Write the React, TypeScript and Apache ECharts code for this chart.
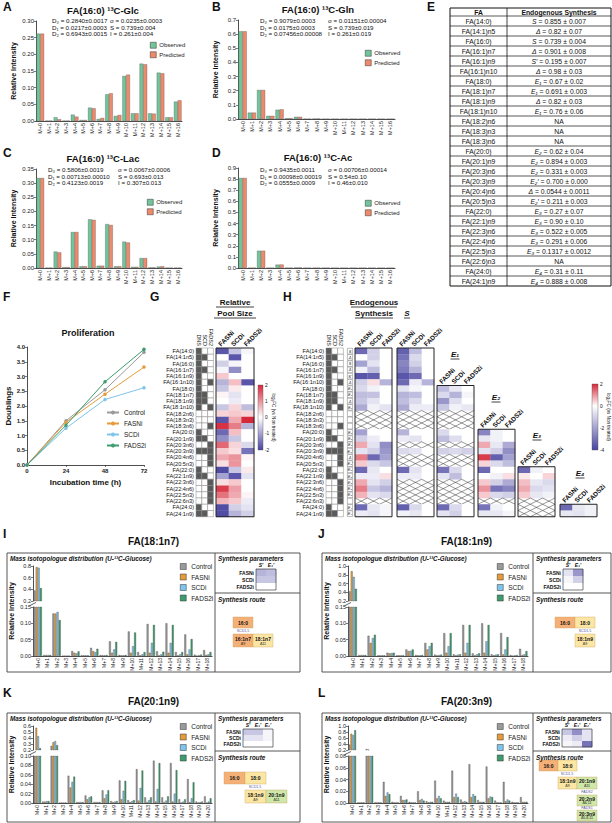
import React, { useEffect, useRef } from 'react';
import * as echarts from 'echarts';

const FONT = '"Liberation Sans", Arial, "DejaVu Sans", sans-serif';

// ---------------- A–D : observed vs predicted MIDs ----------------
const M17 = ['M+0','M+1','M+2','M+3','M+4','M+5','M+6','M+7','M+8','M+9','M+10','M+11','M+12','M+13','M+14','M+15','M+16'];
const M19 = ['M+0','M+1','M+2','M+3','M+4','M+5','M+6','M+7','M+8','M+9','M+10','M+11','M+12','M+13','M+14','M+15','M+16','M+17','M+18'];
const M21 = ['M+0','M+1','M+2','M+3','M+4','M+5','M+6','M+7','M+8','M+9','M+10','M+11','M+12','M+13','M+14','M+15','M+16','M+17','M+18','M+19','M+20'];

const A_OBS = [0.262,0.001,0.011,0.001,0.019,0.003,0.040,0.006,0.080,0.015,0.135,0.023,0.172,0.023,0.145,0.011,0.058];
const A_PRED = [0.262,0.001,0.005,0.001,0.013,0.003,0.038,0.009,0.083,0.018,0.139,0.023,0.170,0.022,0.143,0.011,0.062];
const B_OBS = [0.620,0.045,0.205,0.022,0.065,0.005,0.015,0.002,0.003,0.001,0.001,0.001,0.001,0.001,0.001,0.001,0.001];
const B_PRED = [0.620,0.045,0.205,0.022,0.068,0.005,0.015,0.002,0.003,0.001,0.001,0.001,0.001,0.001,0.001,0.001,0.001];
const C_OBS = [0.318,0.001,0.058,0.003,0.127,0.006,0.172,0.008,0.155,0.006,0.093,0.004,0.035,0.002,0.005,0.001,0.001];
const C_PRED = [0.318,0.001,0.055,0.003,0.127,0.006,0.170,0.008,0.152,0.006,0.090,0.004,0.035,0.002,0.006,0.001,0.001];
const D_OBS = [0.810,0.001,0.155,0.001,0.030,0.002,0.004,0.001,0.002,0.001,0.001,0.001,0.001,0.001,0.001,0.001,0.001];
const D_PRED = [0.810,0.001,0.155,0.001,0.031,0.002,0.004,0.001,0.002,0.001,0.001,0.001,0.001,0.001,0.001,0.001,0.001];

const A_PAR1 = ['D₀ = 0.2840±0.0017','D₁ = 0.0217±0.0003','D₂ = 0.6943±0.0015'];
const A_PAR2 = ['σ = 0.0235±0.0003','S = 0.739±0.004','I = 0.261±0.004'];
const B_PAR1 = ['D₀ = 0.9079±0.0003','D₁ = 0.0175±0.0003','D₂ = 0.07456±0.00008'];
const B_PAR2 = ['σ = 0.01151±0.00004','S = 0.739±0.019','I = 0.261±0.019'];
const C_PAR1 = ['D₀ = 0.5806±0.0019','D₁ = 0.00713±0.00010','D₂ = 0.4123±0.0019'];
const C_PAR2 = ['σ = 0.0067±0.0006','S = 0.693±0.013','I = 0.307±0.013'];
const D_PAR1 = ['D₀ = 0.9435±0.0011','D₁ = 0.00098±0.00019','D₂ = 0.0555±0.0009'];
const D_PAR2 = ['σ = 0.00706±0.00014','S = 0.54±0.10','I = 0.46±0.010'];

// ---------------- E : table ----------------
const TABLE_FA = ['FA(14:0)','FA(14:1)n5','FA(16:0)','FA(16:1)n7','FA(16:1)n9','FA(16:1)n10','FA(18:0)','FA(18:1)n7','FA(18:1)n9','FA(18:1)n10','FA(18:2)n6','FA(18:3)n3','FA(18:3)n6','FA(20:0)','FA(20:1)n9','FA(20:3)n6','FA(20:3)n9','FA(20:4)n6','FA(20:5)n3','FA(22:0)','FA(22:1)n9','FA(22:3)n6','FA(22:4)n6','FA(22:5)n3','FA(22:6)n3','FA(24:0)','FA(24:1)n9'];
const TABLE_PARAM = ['S','Δ','S','Δ','S′','Δ','E₁','E₁','Δ','E₁','','','','E₂','E₂','E₂','E₂′','Δ','E₂′','E₃','E₃','E₃','E₃','E₃','','E₄','E₄'];
const TABLE_VALUE = ['0.855 ± 0.007','0.82 ± 0.07','0.739 ± 0.004','0.901 ± 0.008','0.195 ± 0.007','0.98 ± 0.03','0.67 ± 0.02','0.691 ± 0.003','0.82 ± 0.03','0.76 ± 0.06','NA','NA','NA','0.62 ± 0.04','0.894 ± 0.003','0.331 ± 0.003','0.700 ± 0.000','0.0544 ± 0.0011','0.211 ± 0.003','0.27 ± 0.07','0.90 ± 0.10','0.522 ± 0.005','0.291 ± 0.006','0.1317 ± 0.0012','NA','0.31 ± 0.11','0.888 ± 0.008'];

// ---------------- F : proliferation ----------------
const F_TIME = [0, 24, 48, 72];
const F_CONTROL = [0, 1.50, 2.55, 3.82];
const F_FASNI = [0, 1.45, 2.40, 3.32];
const F_SCDI = [0, 1.25, 2.22, 2.62];
const F_FADS2I = [0, 1.35, 2.82, 3.92];

// ---------------- G / H : heatmaps ----------------
const FA_ROWS = ['FA(14:0)','FA(14:1n5)','FA(16:0)','FA(16:1n7)','FA(16:1n9)','FA(16:1n10)','FA(18:0)','FA(18:1n7)','FA(18:1n9)','FA(18:1n10)','FA(18:2n6)','FA(18:3n3)','FA(18:3n6)','FA(20:0)','FA(20:1n9)','FA(20:3n6)','FA(20:3n9)','FA(20:4n6)','FA(20:5n3)','FA(22:0)','FA(22:1n9)','FA(22:3n6)','FA(22:4n6)','FA(22:5n3)','FA(22:6n3)','FA(24:0)','FA(24:1n9)'];
const ROUTE_COLS = ['DNS','SCD','FADS2'];
const INHIB = ['FASNi','SCDi','FADS2i'];
const ROUTE_MATRIX = [[1,0,0],[1,1,0],[1,0,0],[1,1,0],[1,0,0],[1,0,1],[1,0,0],[1,1,0],[1,1,0],[1,0,1],[0,0,0],[0,0,0],[0,0,1],[1,0,0],[1,1,0],[0,0,1],[1,1,1],[0,0,1],[0,0,1],[1,0,0],[1,1,0],[0,0,1],[0,0,1],[0,0,1],[0,0,1],[1,0,0],[1,1,0]];
const G_FC = [[-1.8,-0.6,-0.1],[0,-1.8,0],[-0.5,-0.1,0],[-0.1,-1.2,0],[0.5,0,0],[-0.8,0.6,-1.8],[-0.6,0.2,0],[0.1,-0.3,0],[0,-0.2,0],[-0.6,0.4,-0.7],[0.4,0.5,0.4],[-1.8,0.8,2.0],[1.9,1.2,-0.8],[-1.6,0.6,0],[-1.2,-0.6,0],[1.4,0.4,-0.4],[0.5,0.3,-1.5],[0.8,1.0,0.1],[0.3,1.0,0],[-1.9,-0.6,0.2],[-1.0,-1.8,-0.3],[0.3,0.5,0],[1.8,0.9,0],[1.3,0.8,0.1],[0.7,0.5,-0.2],[-1.9,-0.5,-0.3],[-1.9,-0.8,-0.5]];
const H_ENDO = [[-3.2,-1.0,0],[0,-1.0,0],[-2.0,-0.6,0],[-0.3,-1.4,0],[-3.6,-3.4,0],[-1.0,0.3,-1.6],[-0.8,-0.3,0],[-1.4,-1.3,0],[-1.2,-0.6,0],[-1.8,-0.3,-0.6],null,null,null,[-2.0,0,0],[-1.0,-0.4,0],[0.8,-0.6,-2.4],[-0.6,-1.0,-2.2],[1.2,-3.2,-2.0],[0.5,-0.8,-1.2],[-3.2,-0.5,0],[-0.4,-0.4,0.3],[0.8,-0.6,-1.0],[1.2,-1.2,-1.6],[0.7,-0.6,-0.8],null,[-3.2,-0.5,-0.2],[-0.4,-0.6,-0.2]];
const H_S = [[-3.4,-1.4,0],[-3.0,-0.8,0],[-2.6,-1.0,0],[-2.8,-1.6,0],[-3.6,-3.2,0],[-3.2,-0.4,-1.6],[-0.6,-0.2,0],[-1.6,-1.4,0],[-1.4,-0.8,0],[-1.8,-0.4,-0.4],null,null,null,[-1.6,0,0],[-0.4,-0.6,0],null,[-0.8,-0.6,0],null,null,[-3.2,-0.6,0],[-0.4,-0.4,0],null,null,null,null,[-3.4,-0.8,0],[-0.3,-0.5,0]];
const H_E1 = [[-1.4,-0.5,0],[-0.8,-1.6,-0.2],[-2.2,-0.7,0],[-1.2,-0.3,-0.5],null,null,null,[-0.8,0,0],[-1.4,-0.7,0],null,[-1.0,-0.8,-1.0],null,null,[-3.0,-0.8,0],[-0.6,-1.4,0],null,null,null,null,[-3.2,-0.8,0],[-0.6,-1.0,0]];
const H_E2 = [[-2.6,-0.3,0],[-0.5,-0.3,0],[0.8,-0.5,-1.8],[-0.6,-1.0,-2.4],[1.8,-3.4,-2.0],[0.4,-0.8,-1.4],[-3.2,0,0],[0,-0.3,0.3],[0.5,-1.0,-1.8],[1.0,-3.0,-2.6],[0.5,-0.8,-1.0],null,[-3.0,-0.3,0],[-0.5,-0.5,-0.2]];
const H_E3 = [[-3.2,-0.3,0],[0.2,0,0.4],[0.6,-0.5,-0.8],[0.8,-0.8,-0.6],[0.5,-0.5,-0.3],null,null,null];
const H_E4 = [[-3.2,-0.5,-0.3],[-0.5,-0.6,-0.3]];

// ---------------- I–L : isotopologue distributions ----------------
const GROUPS = ['Control','FASNi','SCDi','FADS2i'];
const I_CONTROL = [0.38,0.003,0.130,0.001,0.015,0.002,0.025,0.003,0.045,0.003,0.075,0.012,0.098,0.014,0.100,0.012,0.066,0.004,0.018];
const I_FASNI = [0.78,0.003,0.130,0.001,0.010,0.002,0.015,0.002,0.010,0.002,0.010,0.002,0.010,0.002,0.010,0.002,0.005,0.001,0.003];
const I_SCDI = [0.77,0.003,0.135,0.001,0.008,0.002,0.012,0.002,0.020,0.002,0.030,0.005,0.040,0.005,0.040,0.005,0.020,0.002,0.005];
const I_FADS2I = [0.42,0.003,0.110,0.001,0.014,0.002,0.022,0.003,0.043,0.003,0.072,0.012,0.095,0.013,0.095,0.012,0.052,0.004,0.012];
const J_CONTROL = [0.42,0.003,0.062,0.002,0.010,0.002,0.020,0.003,0.040,0.004,0.070,0.005,0.095,0.008,0.100,0.005,0.070,0.003,0.022];
const J_FASNI = [0.88,0.003,0.040,0.002,0.008,0.002,0.015,0.002,0.020,0.002,0.010,0.002,0.010,0.002,0.010,0.002,0.005,0.001,0.003];
const J_SCDI = [0.75,0.003,0.055,0.002,0.009,0.002,0.016,0.002,0.030,0.003,0.030,0.004,0.040,0.005,0.045,0.004,0.020,0.002,0.005];
const J_FADS2I = [0.48,0.003,0.065,0.002,0.010,0.002,0.020,0.003,0.040,0.004,0.070,0.005,0.095,0.008,0.095,0.005,0.058,0.003,0.015];
const K_CONTROL = [0.20,0.003,0.27,0.001,0.058,0.002,0.016,0.002,0.027,0.004,0.048,0.006,0.072,0.012,0.090,0.012,0.085,0.008,0.051,0.003,0.014];
const K_FASNI = [0.57,0.003,0.33,0.001,0.033,0.002,0.008,0.002,0.010,0.002,0.008,0.002,0.005,0.002,0.003,0.002,0.003,0.001,0.002,0.001,0.001];
const K_SCDI = [0.43,0.004,0.35,0.001,0.045,0.002,0.012,0.002,0.018,0.003,0.026,0.004,0.032,0.006,0.030,0.005,0.020,0.003,0.010,0.002,0.003];
const K_FADS2I = [0.23,0.004,0.28,0.001,0.056,0.002,0.014,0.002,0.027,0.004,0.047,0.006,0.069,0.012,0.085,0.014,0.070,0.008,0.044,0.003,0.010];
const L_CONTROL = [0.38,0.001,0.23,0.001,0.036,0.002,0.012,0.002,0.020,0.003,0.038,0.004,0.055,0.006,0.066,0.005,0.062,0.004,0.036,0.002,0.010];
const L_FASNI = [0.74,0.001,0.21,0.001,0.012,0.001,0.005,0.001,0.005,0.001,0.008,0.002,0.010,0.002,0.010,0.002,0.008,0.001,0.003,0.001,0.002];
const L_SCDI = [0.70,0.001,0.20,0.001,0.018,0.001,0.005,0.001,0.007,0.002,0.012,0.002,0.016,0.003,0.015,0.002,0.011,0.001,0.006,0.001,0.002];
const L_FADS2I = [0.86,0.001,0.19,0.001,0.015,0.001,0.006,0.001,0.004,0.002,0.008,0.002,0.010,0.002,0.012,0.002,0.010,0.001,0.004,0.001,0.002];
const I_PARAMS = ['S′','E₁′'];
const K_PARAMS = ['S′','E₁′','E₂′'];
const I_MINI = [[-1.6,-1.4],[-1.2,-1.2],[0,0]];
const J_MINI = [[-0.6,-2.2],[-0.2,-1.0],[0,0]];
const K_MINI = [[-1.2,-1.2,-0.2],[-0.6,-0.6,-0.2],[0,0,0]];
const L_MINI = [[-1.2,-2.4,-0.6],[-0.4,-1.0,-0.6],[-0.2,-0.4,-3.0]];

// ---------------- colours ----------------
const OBS_COLOR = '#72C49B';
const PRED_COLOR = '#EE8A6B';
const GROUP_COLORS = ['#9A9A9A', '#E69B3A', '#7FC4EA', '#3E9C6E'];
const ORANGE_BOX = '#F5B078', YELLOW_BOX = '#FCE6A4', GREEN_BOX = '#CFE7A9';

function fcColor(v: number, lo: number, hi: number) {
  const W = [255, 255, 255], R = [214, 40, 57], B = [72, 68, 160];
  let t: number, C: number[];
  if (v >= 0) { t = Math.min(1, v / hi); C = R; } else { t = Math.min(1, v / lo); C = B; }
  const c = W.map((w, i) => Math.round(w + (C[i] - w) * t));
  return `rgb(${c[0]},${c[1]},${c[2]})`;
}

function buildOption() {
  const grids: any[] = [], xAxes: any[] = [], yAxes: any[] = [], series: any[] = [], graphics: any[] = [], legends: any[] = [];
  const AXL = { show: true, lineStyle: { color: '#222', width: 0.8 } };
  const TICK = { show: true, length: 2, lineStyle: { color: '#222', width: 0.6 } };
  const addGrid = (g: any, xa: any, ya: any) => {
    grids.push({ ...g, containLabel: false });
    const gi = grids.length - 1;
    xAxes.push({ ...xa, gridIndex: gi });
    yAxes.push({ ...ya, gridIndex: gi });
    return gi;
  };
  const T = (text: string, x: number, y: number, o: any = {}) => {
    graphics.push({
      type: 'text', x, y, rotation: o.rot || 0, z: 100,
      style: {
        text, fill: o.color || '#111', fontSize: o.size || 7, fontWeight: o.bold ? 'bold' : 'normal',
        fontStyle: o.italic ? 'italic' : 'normal', fontFamily: FONT,
        align: o.align || 'left', textAlign: o.align || 'left',
        verticalAlign: o.va || 'middle', textVerticalAlign: o.va || 'middle',
        rich: o.rich,
      },
    });
  };
  const L = (x1: number, y1: number, x2: number, y2: number, w = 0.8, c = '#222') =>
    graphics.push({ type: 'line', z: 100, shape: { x1, y1, x2, y2 }, style: { stroke: c, lineWidth: w } });
  const R = (x: number, y: number, w: number, h: number, fill: string, stroke = '#222', lw = 0.8, z = 99) =>
    graphics.push({ type: 'rect', z, shape: { x, y, width: w, height: h }, style: { fill, stroke, lineWidth: lw } });

  // panel letters
  const letters: [string, number, number][] = [['A',3,1],['B',212,1],['C',3,147],['D',212,147],['E',427,1],['F',3,291],['G',150,291],['H',283,291],['I',3,528],['J',318,528],['K',3,687],['L',318,687]];
  letters.forEach(([s, x, y]) => T(s, x, y, { size: 12, bold: true, va: 'top' }));

  // ---------- A–D ----------
  const obsPred = (left: number, top: number, width: number, height: number, max: number, interval: number, dec: number, obs: number[], pred: number[], title: string, tx: number, p1: string[], p2: string[], px1: number, px2: number, py: number, lx: number, ly: number) => {
    const gi = addGrid({ left, top, width, height },
      { type: 'category', data: M17, axisLine: AXL, axisTick: { show: false }, axisLabel: { rotate: 90, fontSize: 5.5, margin: 2, interval: 0, color: '#222', fontFamily: FONT } },
      { type: 'value', min: 0, max, interval, axisLine: AXL, axisTick: TICK, splitLine: { show: false },
        axisLabel: { fontSize: 6, margin: 2, color: '#222', fontFamily: FONT, formatter: (v: number) => v.toFixed(dec) },
        name: 'Relative Intensity', nameLocation: 'middle', nameGap: 19, nameTextStyle: { fontSize: 7, fontWeight: 'bold', fontFamily: FONT, color: '#111' } });
    const bw = (width / 17) * 0.44;
    series.push({ type: 'bar', name: 'Observed', xAxisIndex: gi, yAxisIndex: gi, data: obs, barWidth: bw, barGap: '0%', itemStyle: { color: OBS_COLOR, borderColor: '#444', borderWidth: 0.3 } });
    series.push({ type: 'bar', name: 'Predicted', xAxisIndex: gi, yAxisIndex: gi, data: pred, barWidth: bw, barGap: '0%', itemStyle: { color: PRED_COLOR, borderColor: '#444', borderWidth: 0.3 } });
    T(title, tx, top - 11, { size: 9.5, bold: true, align: 'center' });
    p1.forEach((s, i) => T(s, px1, py + i * 6.6, { size: 6.2 }));
    p2.forEach((s, i) => T(s, px2, py + i * 6.6, { size: 6.2 }));
    legends.push({ data: ['Observed', 'Predicted'], left: lx, top: ly, orient: 'vertical', icon: 'rect', itemWidth: 6, itemHeight: 6, itemGap: 3, padding: 0, selectedMode: false,
      textStyle: { fontSize: 6, fontFamily: FONT, color: '#222', padding: [0, 0, 0, -2] }, itemStyle: { borderColor: '#333', borderWidth: 0.5 } });
  };
  obsPred(36, 21, 146, 100, 0.30, 0.05, 2, A_OBS, A_PRED, 'FA(16:0) ¹³C-Glc', 103, A_PAR1, A_PAR2, 52, 110, 20.5, 150, 42);
  obsPred(238, 20, 157, 99, 0.7, 0.1, 1, B_OBS, B_PRED, 'FA(16:0) ¹³C-Gln', 318, B_PAR1, B_PAR2, 260, 328, 20.5, 365, 50);
  obsPred(36, 169, 146, 99, 0.35, 0.05, 2, C_OBS, C_PRED, 'FA(16:0) ¹³C-Lac', 103, C_PAR1, C_PAR2, 48, 118, 169.5, 147, 199);
  obsPred(238, 168, 157, 100, 0.9, 0.1, 1, D_OBS, D_PRED, 'FA(16:0) ¹³C-Ac', 318, D_PAR1, D_PAR2, 260, 328, 169.5, 365, 200);

  // ---------- E : table ----------
  const TX0 = 450, TX1 = 507, TX2 = 611, TY0 = 8, HH = 8, RH = 10;
  const tH = HH + TABLE_FA.length * RH;
  R(TX0, TY0, TX2 - TX0, tH, '#fff', '#111', 1, 90);
  L(TX1, TY0, TX1, TY0 + tH, 0.8, '#111');
  for (let i = 0; i < TABLE_FA.length; i++) L(TX0, TY0 + HH + i * RH, TX2, TY0 + HH + i * RH, 0.7, '#111');
  T('FA', (TX0 + TX1) / 2, TY0 + HH / 2 + 0.5, { size: 6.8, bold: true, align: 'center' });
  T('Endogenous Synthesis', (TX1 + TX2) / 2, TY0 + HH / 2 + 0.5, { size: 6.8, bold: true, align: 'center' });
  TABLE_FA.forEach((fa, i) => {
    const y = TY0 + HH + i * RH + RH / 2 + 0.5;
    T(fa, (TX0 + TX1) / 2, y, { size: 6.8, align: 'center' });
    const p = TABLE_PARAM[i];
    const txt = p ? `{i|${p}} = ${TABLE_VALUE[i]}` : TABLE_VALUE[i];
    T(txt, (TX1 + TX2) / 2, y, { size: 6.8, align: 'center', rich: { i: { fontStyle: 'italic', fontSize: 6.8, fontFamily: FONT, fill: '#111' } } });
  });

  // ---------- F ----------
  const gF = addGrid({ left: 27, top: 347, width: 117, height: 118 },
    { type: 'value', min: 0, max: 72, interval: 24, axisLine: AXL, axisTick: TICK, splitLine: { show: false },
      axisLabel: { fontSize: 6, fontWeight: 'bold', margin: 3, color: '#222', fontFamily: FONT },
      name: 'Incubation time (h)', nameLocation: 'middle', nameGap: 13, nameTextStyle: { fontSize: 8, fontWeight: 'bold', fontFamily: FONT, color: '#111' } },
    { type: 'value', min: 0, max: 4, interval: 0.5, axisLine: AXL, axisTick: TICK, splitLine: { show: false },
      axisLabel: { fontSize: 6, fontWeight: 'bold', margin: 2, color: '#222', fontFamily: FONT, formatter: (v: number) => v.toFixed(1) },
      name: 'Doublings', nameLocation: 'middle', nameGap: 15, nameTextStyle: { fontSize: 8, fontWeight: 'bold', fontFamily: FONT, color: '#111' } });
  [F_CONTROL, F_FASNI, F_SCDI, F_FADS2I].forEach((arr, k) => {
    series.push({ type: 'line', name: GROUPS[k], xAxisIndex: gF, yAxisIndex: gF, data: F_TIME.map((t, i) => [t, arr[i]]),
      symbol: 'circle', symbolSize: 3.5, lineStyle: { width: 1, color: GROUP_COLORS[k] }, itemStyle: { color: GROUP_COLORS[k] } });
  });
  T('Proliferation', 88, 333, { size: 9, bold: true, align: 'center' });
  legends.push({ data: GROUPS, left: 106, top: 409, orient: 'vertical', itemWidth: 12, itemHeight: 5, itemGap: 4, padding: 0, selectedMode: false,
    textStyle: { fontSize: 6.5, fontFamily: FONT, color: '#222' } });

  // ---------- heatmap helpers ----------
  const ROW_H = 6.25, HTOP = 348;
  const heatRender = (lo: number, hi: number) => (p: any, api: any) => {
    const c = api.coord([api.value(0), api.value(1)]);
    const s = api.size([1, 1]);
    const x0 = c[0] - s[0] / 2, y0 = c[1] - s[1] / 2;
    if (api.value(3) === 1) {
      return { type: 'group', children: [
        { type: 'line', shape: { x1: x0, y1: y0, x2: x0 + s[0], y2: y0 + s[1] }, style: { stroke: '#333', lineWidth: 0.5 } },
        { type: 'line', shape: { x1: x0 + s[0], y1: y0, x2: x0, y2: y0 + s[1] }, style: { stroke: '#333', lineWidth: 0.5 } },
      ] };
    }
    return { type: 'rect', shape: { x: x0, y: y0, width: s[0] + 0.3, height: s[1] + 0.3 }, style: { fill: fcColor(api.value(2), lo, hi) } };
  };
  const heat = (left: number, top: number, width: number, height: number, cols: string[], rowNames: string[], rows: (number[] | null)[], lo: number, hi: number, o: any = {}) => {
    const diag = !o.flatX;
    const gi = addGrid({ left, top, width, height },
      { type: 'category', data: cols, position: 'top', axisLine: { show: false }, axisTick: { show: false },
        axisLabel: { show: !diag, rotate: 0, fontSize: o.xSize ?? 6.5, fontWeight: 'bold', fontStyle: o.xItalic ? 'italic' : 'normal', margin: o.xMargin ?? 2, interval: 0, color: '#111', fontFamily: FONT } },
      { type: 'category', data: rowNames, inverse: true, axisLine: { show: false }, axisTick: { show: false },
        axisLabel: { show: !!o.showY, fontSize: o.ySize ?? 5.5, fontWeight: o.yBold ? 'bold' : 'normal', margin: 2, interval: 0, color: '#111', fontFamily: FONT } });
    const data: any[] = [];
    rows.forEach((r, ri) => {
      for (let ci = 0; ci < cols.length; ci++) data.push(r ? [ci, ri, r[ci], 0] : [ci, ri, 0, 1]);
    });
    series.push({ type: 'custom', coordinateSystem: 'cartesian2d', xAxisIndex: gi, yAxisIndex: gi, data, encode: { x: 0, y: 1 }, silent: true, renderItem: heatRender(lo, hi) });
    R(left, top, width, height, 'none', '#222', o.lw ?? 1, 101);
    if (diag) {
      const cw = width / cols.length;
      cols.forEach((c, ci) => T(c, left + (ci + 0.5) * cw - 3, top - 3, { size: 6.5, bold: true, rot: Math.PI / 4 }));
    }
    return gi;
  };
  const grayMatrix = (left: number, showY: boolean) => {
    const gi = addGrid({ left, top: HTOP, width: 17.4, height: FA_ROWS.length * ROW_H },
      { type: 'category', data: ROUTE_COLS, position: 'top', axisLine: { show: false }, axisTick: { show: false },
        axisLabel: { rotate: 90, fontSize: 5.5, margin: 2, interval: 0, color: '#111', fontFamily: FONT } },
      { type: 'category', data: FA_ROWS, inverse: true, axisLine: { show: false }, axisTick: { show: false },
        axisLabel: { show: showY, fontSize: 5.6, margin: 2, interval: 0, color: '#111', fontFamily: FONT } });
    const data: any[] = [];
    ROUTE_MATRIX.forEach((r, ri) => r.forEach((v, ci) => data.push([ci, ri, v])));
    series.push({ type: 'custom', coordinateSystem: 'cartesian2d', xAxisIndex: gi, yAxisIndex: gi, data, encode: { x: 0, y: 1 }, silent: true,
      renderItem: (p: any, api: any) => {
        const c = api.coord([api.value(0), api.value(1)]); const s = api.size([1, 1]);
        return { type: 'rect', shape: { x: c[0] - s[0] / 2, y: c[1] - s[1] / 2, width: s[0], height: s[1] }, style: { fill: api.value(2) ? '#5a5a5a' : '#fff', stroke: '#888', lineWidth: 0.5 } };
      } });
  };
  const colorBar = (x: number, y: number, w: number, h: number, ticks: number[], lo: number, hi: number) => {
    const zeroPos = hi / (hi - lo);
    graphics.push({ type: 'rect', z: 100, shape: { x, y, width: w, height: h }, style: { stroke: '#555', lineWidth: 0.4,
      fill: new echarts.graphic.LinearGradient(0, 0, 0, 1, [
        { offset: 0, color: fcColor(hi, lo, hi) }, { offset: zeroPos, color: '#ffffff' }, { offset: 1, color: fcColor(lo, lo, hi) }]) } });
    ticks.forEach((t) => T(String(t), x + w + 2, y + (hi - t) / (hi - lo) * h, { size: 4.8 }));
    T('log₂FC (vs Non treated)', x + w + 10, y + h / 2, { size: 4.6, rot: -Math.PI / 2, align: 'center' });
  };
  const underlined = (s: string, cx: number, y: number, w: number, italic = false) => {
    T(s, cx, y, { size: 8, bold: true, italic, align: 'center' });
    L(cx - w / 2, y + 5, cx + w / 2, y + 5, 0.8, '#111');
  };

  // ---------- G ----------
  grayMatrix(196, true);
  heat(216, HTOP, 38, FA_ROWS.length * ROW_H, INHIB, FA_ROWS, G_FC, -2, 2);
  colorBar(258, 385, 5, 65, [2, 1, 0, -1, -2], -2, 2);
  underlined('Relative', 235, 302, 38);
  underlined('Pool Size', 235, 313, 42);

  // ---------- H ----------
  grayMatrix(326, true);
  {
    const gi = addGrid({ left: 347, top: HTOP, width: 6, height: FA_ROWS.length * ROW_H },
      { type: 'category', data: [''], axisLine: { show: false }, axisTick: { show: false }, axisLabel: { show: false } },
      { type: 'category', data: FA_ROWS, inverse: true, axisLine: { show: false }, axisTick: { show: false }, axisLabel: { show: false } });
    series.push({ type: 'custom', coordinateSystem: 'cartesian2d', xAxisIndex: gi, yAxisIndex: gi, data: TABLE_PARAM.map((_, i) => [0, i]), encode: { x: 0, y: 1 }, silent: true,
      renderItem: (p: any, api: any) => {
        const c = api.coord([api.value(0), api.value(1)]); const s = api.size([1, 1]);
        return { type: 'group', children: [
          { type: 'rect', shape: { x: c[0] - s[0] / 2 + 0.4, y: c[1] - s[1] / 2 + 0.3, width: s[0] - 0.8, height: s[1] - 0.6 }, style: { fill: '#fff', stroke: '#555', lineWidth: 0.4 } },
          { type: 'text', style: { text: TABLE_PARAM[api.value(1)], x: c[0], y: c[1], fontSize: 4, fontStyle: 'italic', fontFamily: FONT, fill: '#222', align: 'center', textAlign: 'center', verticalAlign: 'middle', textVerticalAlign: 'middle' } },
        ] };
      } });
  }
  heat(355, HTOP, 37, FA_ROWS.length * ROW_H, INHIB, FA_ROWS, H_ENDO, -4, 2);
  heat(397, HTOP, 37, FA_ROWS.length * ROW_H, INHIB, FA_ROWS, H_S, -4, 2);
  heat(437, HTOP + 6 * ROW_H, 37, 21 * ROW_H, INHIB, FA_ROWS.slice(6), H_E1, -4, 2);
  heat(478, HTOP + 13 * ROW_H, 37, 14 * ROW_H, INHIB, FA_ROWS.slice(13), H_E2, -4, 2);
  heat(518, HTOP + 19 * ROW_H, 37, 8 * ROW_H, INHIB, FA_ROWS.slice(19), H_E3, -4, 2);
  heat(560, HTOP + 25 * ROW_H, 37, 2 * ROW_H, INHIB, FA_ROWS.slice(25), H_E4, -4, 2);
  colorBar(592, 384, 6, 66, [2, 0, -2, -4], -4, 2);
  underlined('Endogenous', 374, 302, 46);
  underlined('Synthesis', 374, 313, 38);
  underlined('S', 407, 313, 6, true);
  underlined('E₁', 455, 354, 9, true);
  underlined('E₂', 496, 397, 9, true);
  underlined('E₃', 537, 435, 9, true);
  underlined('E₄', 580, 473, 9, true);

  // ---------- I–L ----------
  const brokenPanel = (cfg: any) => {
    const { bx0, bx1, div, by0, by1, title, left, width, cats, top, bot, data, mini, params, miniLeft, miniTop, miniW, miniH, paramDivY, legendLeft, legendTop } = cfg;
    R(bx0, by0, bx1 - bx0, by1 - by0, 'none', '#444', 0.9, 98);
    L(div, by0, div, by1, 0.9, '#444');
    L(div, paramDivY, bx1, paramDivY, 0.9, '#444');
    T(title, (bx0 + bx1) / 2, by0 - 12, { size: 10, bold: true, align: 'center' });
    T('Mass isotopologue distribution (U-¹³C-Glucose)', bx0 + 3, by0 + 5, { size: 6.3, bold: true, italic: true });
    T('Synthesis parameters', div + 3, by0 + 5, { size: 6.3, bold: true, italic: true });
    T('Synthesis route', div + 3, paramDivY + 6, { size: 6.3, bold: true, italic: true });
    T('Relative Intensity', left - 22, (top.top + bot.top + bot.height) / 2, { size: 7, bold: true, rot: Math.PI / 2, align: 'center' });
    const yAx = (seg: any) => ({ type: 'value', min: seg.min, max: seg.max, interval: seg.interval, axisLine: AXL, axisTick: TICK, splitLine: { show: false },
      axisLabel: { fontSize: 5.5, margin: 2, color: '#222', fontFamily: FONT, formatter: (v: number) => v.toFixed(seg.dec) } });
    const gTop = addGrid({ left, top: top.top, width, height: top.height },
      { type: 'category', data: cats, axisLine: { show: false }, axisTick: { show: false }, axisLabel: { show: false } }, yAx(top));
    const gBot = addGrid({ left, top: bot.top, width, height: bot.height },
      { type: 'category', data: cats, axisLine: AXL, axisTick: { show: false }, axisLabel: { rotate: 90, fontSize: 5, margin: 2, interval: 0, color: '#222', fontFamily: FONT } }, yAx(bot));
    const bw = (width / cats.length) * 0.2;
    GROUPS.forEach((n, k) => {
      [gTop, gBot].forEach((g) => series.push({ type: 'bar', name: n, xAxisIndex: g, yAxisIndex: g, data: data[k], barWidth: bw, barGap: '12%', clip: true,
        itemStyle: { color: GROUP_COLORS[k], borderColor: '#333', borderWidth: 0.3 } }));
    });
    const gy = (top.top + top.height + bot.top) / 2;
    L(left - 3, gy + 1.5, left + 3, gy - 1.5, 0.7, '#222');
    legends.push({ data: GROUPS, left: legendLeft, top: legendTop, orient: 'vertical', icon: 'rect', itemWidth: 6, itemHeight: 6, itemGap: 3.5, padding: 0, selectedMode: false,
      textStyle: { fontSize: 6.5, fontFamily: FONT, color: '#222' }, itemStyle: { borderColor: '#333', borderWidth: 0.5 } });
    heat(miniLeft, miniTop, miniW, miniH, params, INHIB, mini, -4, 2, { flatX: true, xSize: 5, xItalic: true, showY: true, ySize: 5, yBold: true, lw: 0.6, xMargin: 1.5 });
  };
  const routeBox = (x: number, y: number, w: number, h: number, fill: string, name: string, delta?: string) => {
    R(x, y, w, h, fill, '#c9a25a', 0.4, 99);
    if (delta) {
      T(name, x + w / 2, y + h * 0.36, { size: 5, bold: true, align: 'center' });
      T(delta, x + w / 2, y + h * 0.76, { size: 3.6, align: 'center' });
    } else T(name, x + w / 2, y + h / 2, { size: 5, bold: true, align: 'center' });
  };
  const enzyme = (s: string, x: number, y: number) => T(s, x, y, { size: 3.6, align: 'center', color: '#55559a' });

  brokenPanel({ bx0: 7, bx1: 300, div: 215, by0: 553, by1: 672, title: 'FA(18:1n7)', left: 33, width: 179, cats: M19,
    top: { top: 566, height: 35, min: 0.2, max: 0.8, interval: 0.2, dec: 1 }, bot: { top: 607, height: 49, min: 0, max: 0.15, interval: 0.05, dec: 2 },
    data: [I_CONTROL, I_FASNI, I_SCDI, I_FADS2I], mini: I_MINI, params: I_PARAMS, miniLeft: 256, miniTop: 569, miniW: 20, miniH: 21, paramDivY: 593, legendLeft: 180, legendTop: 563 });
  routeBox(233, 617, 20, 11, ORANGE_BOX, '16:0');
  enzyme('SCD1,5', 243, 631);
  routeBox(233, 634, 20, 13, ORANGE_BOX, '16:1n7', 'Δ9');
  routeBox(253, 634, 20, 13, YELLOW_BOX, '18:1n7', 'Δ11');

  brokenPanel({ bx0: 322, bx1: 611, div: 533, by0: 553, by1: 672, title: 'FA(18:1n9)', left: 348, width: 180, cats: M19,
    top: { top: 566, height: 35, min: 0.2, max: 1.0, interval: 0.2, dec: 1 }, bot: { top: 607, height: 49, min: 0, max: 0.15, interval: 0.05, dec: 2 },
    data: [J_CONTROL, J_FASNI, J_SCDI, J_FADS2I], mini: J_MINI, params: I_PARAMS, miniLeft: 563, miniTop: 569, miniW: 20, miniH: 21, paramDivY: 593, legendLeft: 497, legendTop: 563 });
  routeBox(555, 617, 20, 11, ORANGE_BOX, '16:0');
  routeBox(575, 617, 20, 11, YELLOW_BOX, '18:0');
  enzyme('SCD1,5', 585, 631);
  routeBox(575, 634, 20, 13, YELLOW_BOX, '18:1n9', 'Δ9');

  brokenPanel({ bx0: 7, bx1: 300, div: 215, by0: 713, by1: 822, title: 'FA(20:1n9)', left: 33, width: 179, cats: M21,
    top: { top: 726, height: 24, min: 0.2, max: 0.6, interval: 0.1, dec: 1 }, bot: { top: 756, height: 47, min: 0, max: 0.10, interval: 0.02, dec: 2 },
    data: [K_CONTROL, K_FASNI, K_SCDI, K_FADS2I], mini: K_MINI, params: K_PARAMS, miniLeft: 243, miniTop: 729, miniW: 30, miniH: 18, paramDivY: 751, legendLeft: 180, legendTop: 723 });
  routeBox(224, 772, 21, 12, ORANGE_BOX, '16:0');
  routeBox(245, 772, 21, 12, YELLOW_BOX, '18:0');
  enzyme('SCD1,5', 255, 787);
  routeBox(245, 790, 21, 13, YELLOW_BOX, '18:1n9', 'Δ9');
  routeBox(266, 790, 21, 13, GREEN_BOX, '20:1n9', 'Δ11');

  brokenPanel({ bx0: 322, bx1: 611, div: 533, by0: 713, by1: 822, title: 'FA(20:3n9)', left: 348, width: 180, cats: M21,
    top: { top: 726, height: 24, min: 0.2, max: 1.0, interval: 0.2, dec: 1 }, bot: { top: 756, height: 47, min: 0, max: 0.08, interval: 0.02, dec: 2 },
    data: [L_CONTROL, L_FASNI, L_SCDI, L_FADS2I], mini: L_MINI, params: K_PARAMS, miniLeft: 562, miniTop: 729, miniW: 30, miniH: 18, paramDivY: 751, legendLeft: 497, legendTop: 723 });
  routeBox(539, 760, 19, 11, ORANGE_BOX, '16:0');
  routeBox(558, 760, 19, 11, YELLOW_BOX, '18:0');
  enzyme('SCD1,5', 567, 774);
  routeBox(558, 777, 19, 12, YELLOW_BOX, '18:1n9', 'Δ9');
  routeBox(577, 777, 20, 12, GREEN_BOX, '20:1n9', 'Δ11');
  enzyme('FADS2', 587, 792);
  routeBox(577, 795, 20, 11, GREEN_BOX, '20:2n9', 'Δ6,11');
  enzyme('FADS1', 587, 808);
  routeBox(577, 810, 20, 11, GREEN_BOX, '20:3n9', 'Δ5,8,11');

  return {
    animation: false,
    backgroundColor: '#fff',
    textStyle: { fontFamily: FONT },
    grid: grids, xAxis: xAxes, yAxis: yAxes, series, legend: legends,
    graphic: { elements: graphics },
  };
}

export default function App() {
  const ref = useRef<HTMLDivElement>(null);
  useEffect(() => {
    if (!ref.current) return;
    const chart = echarts.init(ref.current, undefined, { renderer: 'svg' });
    chart.setOption(buildOption() as any);
    return () => chart.dispose();
  }, []);
  return <div ref={ref} style={{ position: 'absolute', left: 0, top: 0, width: 612, height: 823, background: '#fff' }} />;
}
